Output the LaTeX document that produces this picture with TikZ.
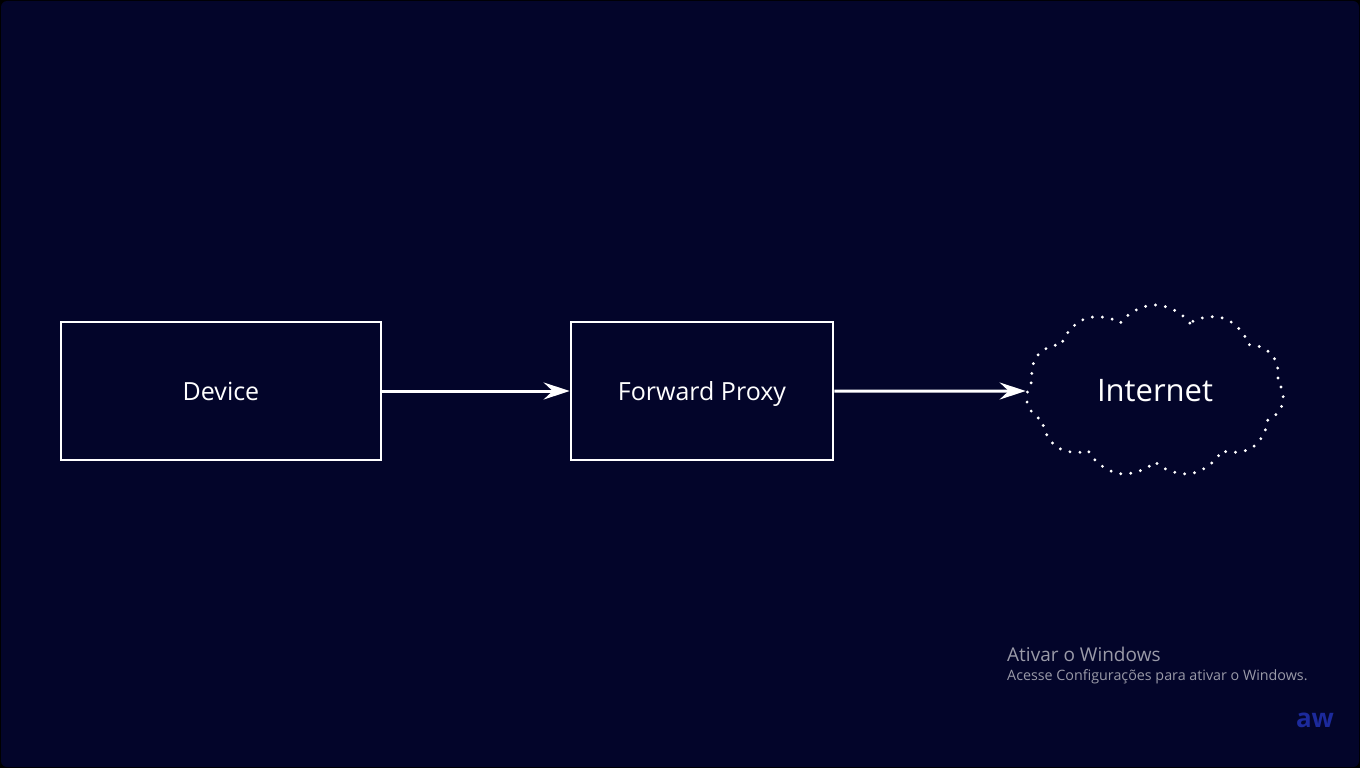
\documentclass[tikz,border=0pt]{standalone}
\usepackage{fontspec}
\setmainfont{Open Sans}
\usetikzlibrary{arrows.meta,shapes.symbols}
\definecolor{bg}{HTML}{03052A}
\definecolor{wm}{HTML}{9A9AA8}
\definecolor{logo}{HTML}{1C2A9C}
\begin{document}
\begin{tikzpicture}[x=1pt,y=-1pt,
  box/.style={draw=white,line width=2.6pt,text=white,font=\fontsize{25}{29}\selectfont,inner sep=0pt,text height=18pt,text depth=0pt},
  flow/.style={draw=white,line width=3pt,-{Stealth[length=26pt,width=17pt,inset=9pt]}},
  dotcloud/.style={cloud,cloud puffs=11,cloud puff arc=110,aspect=1.5,draw=white,line width=3.2pt,line cap=round,dash pattern=on 0pt off 10pt,text=white,font=\fontsize{31}{36}\selectfont,minimum width=258pt,minimum height=172pt,inner sep=0pt}]
\useasboundingbox (0,0) rectangle (1360,768);
\fill[black] (0,0) rectangle (1360,768);
\fill[bg,rounded corners=6pt] (1,1) rectangle (1359,767);
\node[box,minimum width=320pt,minimum height=138pt] (device) at (221,391) {Device};
\node[box,minimum width=262pt,minimum height=138pt] (proxy) at (702,391) {Forward Proxy};
\node[dotcloud] (internet) at (1155,391) {Internet};
\draw[flow] (device.east) -- (proxy.west);
\draw[flow] (proxy.east) -- (internet.west);
\node[anchor=west,text=wm,font=\fontsize{19}{22}\selectfont,inner sep=0pt] (wm1) at (1007,654) {Ativar o Windows};
\node[anchor=west,text=wm,font=\fontsize{14.3}{17}\selectfont,inner sep=0pt] (wm2) at (1007,677) {Acesse Configurações para ativar o Windows.};
\node[text=logo,font=\fontsize{26}{28}\selectfont\bfseries,inner sep=0pt] (aw) at (1315,720) {aw};
\end{tikzpicture}
\end{document}
